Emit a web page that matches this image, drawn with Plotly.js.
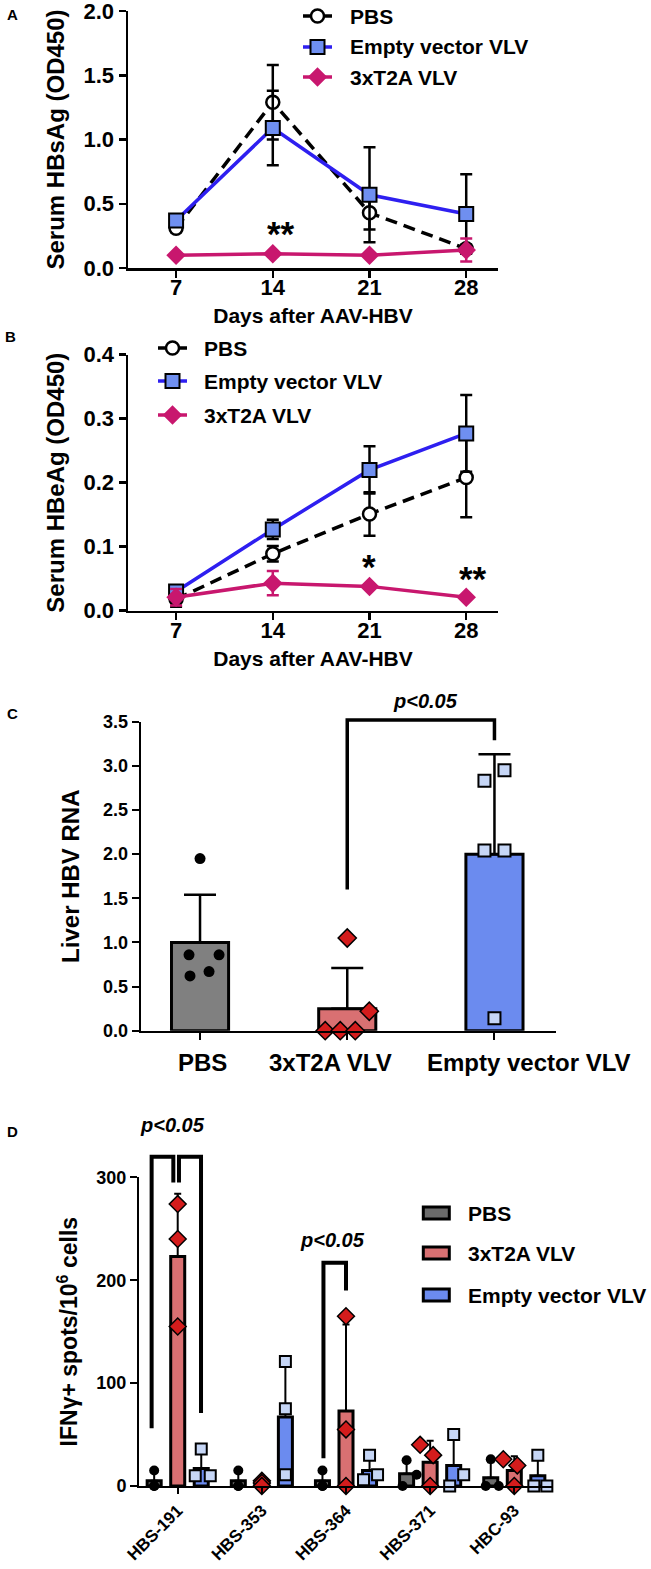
<!DOCTYPE html>
<html><head><meta charset="utf-8">
<script src="https://cdn.plot.ly/plotly-3.0.1.min.js"></script>
<style>html,body{margin:0;padding:0;background:#fff}</style>
</head><body><div id="chart" style="width:651px;height:1569px"></div>
<script>
// ---------------- DATA ----------------
const days = [7, 14, 21, 28];
const seriesNames = ['PBS', 'Empty vector VLV', '3xT2A VLV'];

// Panel A: Serum HBsAg (OD450), mean and error
const hbsagPBS = [0.31, 1.29, 0.43, 0.15];
const hbsagPBSErr = [0.03, 0.29, 0.13, 0.03];
const hbsagEmpty = [0.37, 1.09, 0.57, 0.42];
const hbsagEmptyErr = [0.02, 0.29, 0.37, 0.31];
const hbsagT2A = [0.10, 0.11, 0.10, 0.14];
const hbsagT2AErr = [0.01, 0.01, 0.01, 0.09];

// Panel B: Serum HBeAg (OD450)
const hbeagPBS = [0.018, 0.089, 0.151, 0.208];
const hbeagPBSErr = [0.012, 0.012, 0.034, 0.062];
const hbeagEmpty = [0.030, 0.127, 0.220, 0.277];
const hbeagEmptyErr = [0.006, 0.015, 0.037, 0.060];
const hbeagT2A = [0.021, 0.043, 0.038, 0.021];
const hbeagT2AErr = [0.013, 0.019, 0.003, 0.002];

// Panel C: Liver HBV RNA
const rnaGroups = ['PBS', '3xT2A VLV', 'Empty vector VLV'];
const rnaMean = [1.0, 0.25, 2.0];
const rnaSD = [0.54, 0.46, 1.13];
const rnaPBS = [1.95, 0.86, 0.86, 0.62, 0.67];
const rnaT2A = [1.05, 0.22, 0.0, 0.0, 0.0];
const rnaEmpty = [2.95, 2.83, 2.04, 2.04, 0.14];

// Panel D: IFNγ+ spots / 10^6 cells
const peptides = ['HBS-191', 'HBS-353', 'HBS-364', 'HBS-371', 'HBC-93'];
const spotsPBSMean = [5, 5, 5, 12, 8];
const spotsPBSSD = [9, 9, 9, 13, 15];
const spotsT2AMean = [223, 3, 73, 23, 15];
const spotsT2ASD = [61, 3, 84, 21, 14];
const spotsEmptyMean = [17, 67, 15, 20, 10];
const spotsEmptySD = [18, 55, 14, 26, 18];
const spotsPBS = [[15, 0, 0], [15, 0, 0], [15, 0, 0], [25, 11, 0], [26, 0, 0]];
const spotsT2A = [[274, 240, 155], [5, 3, 0], [165, 55, 0], [40, 30, 0], [26, 20, 0]];
const spotsEmpty = [[36, 10, 10], [121, 75, 11], [30, 6, 11], [50, 11, 0], [30, 0, 0]];

// ---------------- STYLE / LAYOUT HELPERS ----------------
const W = 651, H = 1569;
const px = v => v / W;
const py = v => 1 - v / H;
const FONT = 'Liberation Sans, Arial, Helvetica, sans-serif';
const f = (size, extra) => Object.assign({family: FONT, weight: 'bold', color: '#000', size: size}, extra || {});

const C_BLUE_LINE = '#2e1ff0', C_BLUE_FILL = '#6f8ff0';
const C_MAG = '#c8176e';
const C_GRAY = '#808080', C_GRAY_D = '#6b6b6b', C_SALMON = '#d97072', C_CORN = '#6b8bef';
const C_RED = '#d41c1c', C_LIGHTBLUE = '#c6d6f6';

const st = [
  {line: {color: '#000', width: 3.5, dash: '12px,7px'},
   marker: {symbol: 'circle', size: 13, color: '#fff', line: {color: '#000', width: 2.5}}, err: '#000'},
  {line: {color: C_BLUE_LINE, width: 3.5},
   marker: {symbol: 'square', size: 14, color: C_BLUE_FILL, line: {color: '#000', width: 2}}, err: '#000'},
  {line: {color: C_MAG, width: 3.5},
   marker: {symbol: 'diamond', size: 15, color: C_MAG, line: {color: C_MAG, width: 0}}, err: C_MAG}
];

function lineSeries(name, y, err, s, xa, ya) {
  return {type: 'scatter', mode: 'lines+markers', name: name, x: days, y: y,
    xaxis: xa, yaxis: ya, line: s.line, marker: s.marker,
    error_y: {type: 'data', array: err, visible: true, color: s.err, thickness: 2.5, width: 6},
    cliponaxis: false, showlegend: false, hoverinfo: 'skip'};
}

const traces = [];
// Panel A
traces.push(lineSeries(seriesNames[0], hbsagPBS, hbsagPBSErr, st[0], 'x', 'y'));
traces.push(lineSeries(seriesNames[1], hbsagEmpty, hbsagEmptyErr, st[1], 'x', 'y'));
traces.push(lineSeries(seriesNames[2], hbsagT2A, hbsagT2AErr, st[2], 'x', 'y'));
// Panel B
traces.push(lineSeries(seriesNames[0], hbeagPBS, hbeagPBSErr, st[0], 'x2', 'y2'));
traces.push(lineSeries(seriesNames[1], hbeagEmpty, hbeagEmptyErr, st[1], 'x2', 'y2'));
traces.push(lineSeries(seriesNames[2], hbeagT2A, hbeagT2AErr, st[2], 'x2', 'y2'));

// Panel C bars
const cIdx = rnaGroups.map((_, i) => i);
traces.push({type: 'bar', x: cIdx, y: rnaMean, xaxis: 'x3', yaxis: 'y3', width: 0.388,
  marker: {color: [C_GRAY, C_SALMON, C_CORN], line: {color: '#000', width: 3}},
  error_y: {type: 'data', symmetric: false, array: rnaSD, arrayminus: [0, 0, 0], color: '#000', thickness: 2.5, width: 16},
  showlegend: false, hoverinfo: 'skip'});
// Panel C points (horizontal spread in px, a style choice)
const cSpread = [[0, -11, 19, -10, 9], [0, 22, -22, -7, 8], [10, -10, -10, 10, 0]];
const cUnit = 147; // px per category
const cPts = [rnaPBS, rnaT2A, rnaEmpty];
const cMk = [
  {symbol: 'circle', size: 11, color: '#000', line: {width: 0}},
  {symbol: 'diamond', size: 14, color: C_RED, line: {color: '#000', width: 1.5}},
  {symbol: 'square', size: 12, color: C_LIGHTBLUE, line: {color: '#000', width: 2}}
];
cPts.forEach((vals, g) => {
  traces.push({type: 'scatter', mode: 'markers', xaxis: 'x3', yaxis: 'y3',
    x: vals.map((_, k) => g + cSpread[g][k] / cUnit), y: vals, marker: cMk[g],
    cliponaxis: false, showlegend: false, hoverinfo: 'skip'});
});

// Panel D bars
const dUnit = 84; // px per peptide group
const dOff = [-23.5 / dUnit, 0, 23.5 / dUnit];
const dBarW = 14 / dUnit;
const dMeans = [spotsPBSMean, spotsT2AMean, spotsEmptyMean];
const dSDs = [spotsPBSSD, spotsT2ASD, spotsEmptySD];
const dFill = [C_GRAY_D, C_SALMON, C_CORN];
const dNames = ['PBS', '3xT2A VLV', 'Empty vector VLV'];
dMeans.forEach((m, g) => {
  traces.push({type: 'bar', name: dNames[g], x: peptides.map((_, i) => i + dOff[g]), y: m,
    xaxis: 'x4', yaxis: 'y4', width: dBarW,
    marker: {color: dFill[g], line: {color: '#000', width: 3}},
    error_y: {type: 'data', symmetric: false, array: dSDs[g], arrayminus: m.map(() => 0), color: '#000', thickness: 2, width: 3.5},
    showlegend: false, hoverinfo: 'skip'});
});
// Panel D points
const dSpread = [
  [[0, 0, 0], [0, 0, 0], [0, 0, 0], [0, 10, -4], [0, -5, 8]],
  [[0, 0, 0], [0, 0, 0], [0, 0, 0], [-10, 3, 0], [-11, 3, 0]],
  [[0, -6, 9], [0, 0, 0], [0, -6, 8], [0, 10, -4], [0, -4, 9]]
];
const dPts = [spotsPBS, spotsT2A, spotsEmpty];
const dMk = [
  {symbol: 'circle', size: 10, color: '#000', line: {width: 0}},
  {symbol: 'diamond', size: 13, color: C_RED, line: {color: '#000', width: 1.5}},
  {symbol: 'square', size: 11, color: C_LIGHTBLUE, line: {color: '#000', width: 2}}
];
dPts.forEach((groups, g) => {
  const xs = [], ys = [];
  groups.forEach((vals, i) => vals.forEach((v, k) => {
    xs.push(i + dOff[g] + dSpread[g][i][k] / dUnit); ys.push(v);
  }));
  traces.push({type: 'scatter', mode: 'markers', xaxis: 'x4', yaxis: 'y4', x: xs, y: ys,
    marker: dMk[g], cliponaxis: false, showlegend: false, hoverinfo: 'skip'});
});

// ---------------- AXES ----------------
const common = {showgrid: false, zeroline: false, showline: true, linecolor: '#000', tickcolor: '#000',
  ticks: 'outside', fixedrange: true, ticklabeloverflow: 'allow'};
function xLine(domain, anchor) {
  return Object.assign({}, common, {domain: domain, anchor: anchor, range: [3.52, 30.3], tickvals: days,
    ticklen: 7, tickwidth: 2.5, linewidth: 2.5, tickfont: f(22), ticklabelstandoff: -9,
    title: {text: 'Days after AAV-HBV', font: f(21), standoff: 10}});
}
function yLine(domain, anchor, range, tv, title) {
  return Object.assign({}, common, {domain: domain, anchor: anchor, range: range, tickvals: tv, tickformat: '.1f',
    ticklen: 7, tickwidth: 2.5, linewidth: 2.5, tickfont: f(22),
    title: {text: title, font: f(24), standoff: 12}});
}

const layout = {
  width: W, height: H, margin: {l: 0, r: 0, t: 0, b: 0}, paper_bgcolor: '#fff', plot_bgcolor: 'rgba(0,0,0,0)',
  showlegend: false, font: {family: FONT},
  xaxis: xLine([px(128), px(498)], 'y'),
  yaxis: yLine([py(268), py(11)], 'x', [0, 2], [0, 0.5, 1, 1.5, 2], 'Serum HBsAg (OD450)'),
  xaxis2: xLine([px(128), px(498)], 'y2'),
  yaxis2: yLine([py(610.7), py(354.7)], 'x2', [0, 0.4], [0, 0.1, 0.2, 0.3, 0.4], 'Serum HBeAg (OD450)'),
  xaxis3: Object.assign({}, common, {domain: [px(140.7), px(556)], anchor: 'y3', range: [-0.403, 2.418],
    tickvals: cIdx, ticktext: rnaGroups, showticklabels: false, ticklen: 7, tickwidth: 2, linewidth: 2}),
  yaxis3: Object.assign({}, common, {domain: [py(1030.7), py(721.7)], anchor: 'x3', range: [0, 3.5], dtick: 0.5,
    tickformat: '.1f', ticklen: 7, tickwidth: 2, linewidth: 2, tickfont: f(18),
    title: {text: 'Liver HBV RNA', font: f(24), standoff: 17}}),
  xaxis4: Object.assign({}, common, {domain: [px(139), px(553)], anchor: 'y4', range: [-0.46, 4.46],
    tickvals: peptides.map((_, i) => i), ticktext: peptides, tickangle: -45, ticklen: 6, tickwidth: 2, linewidth: 2,
    tickfont: f(17)}),
  yaxis4: Object.assign({}, common, {domain: [py(1486), py(1177.3)], anchor: 'x4', range: [0, 300],
    tickvals: [0, 100, 200, 300], ticklen: 7, tickwidth: 2, linewidth: 2, tickfont: f(18),
    title: {text: 'IFNγ+ spots/10<sup>6</sup> cells', font: f(23), standoff: 12}}),
  // pixel-space overlay used only for legend glyph markers
  xaxis5: {domain: [0, 1], range: [0, W], visible: false, fixedrange: true, anchor: 'y5'},
  yaxis5: {domain: [0, 1], range: [H, 0], visible: false, fixedrange: true, anchor: 'x5'},
  barmode: 'overlay',
  shapes: [],
  annotations: []
};

// Significance brackets drawn in paper space from data coordinates (not clipped by the plot area)
function toPaper(axName, v) {
  const a = layout[axName];
  return a.domain[0] + (v - a.range[0]) / (a.range[1] - a.range[0]) * (a.domain[1] - a.domain[0]);
}
function bracket(xa, ya, xs, ys, w) {
  const pts = xs.map((x, i) => toPaper(xa, x).toFixed(5) + ',' + toPaper(ya, ys[i]).toFixed(5));
  layout.shapes.push({type: 'path', xref: 'paper', yref: 'paper', path: 'M' + pts.join('L'),
    line: {color: '#000', width: w}, layer: 'above'});
}
bracket('xaxis3', 'yaxis3', [1, 1, 2, 2], [1.6, 3.52, 3.52, 3.29], 3.5);
bracket('xaxis4', 'yaxis4', [-0.31, -0.31, -0.052, -0.052], [56, 320, 320, 295], 4);
bracket('xaxis4', 'yaxis4', [0.015, 0.015, 0.277, 0.277], [295, 320, 320, 71], 4);
bracket('xaxis4', 'yaxis4', [2 - 0.268, 2 - 0.268, 2, 2], [27, 217, 217, 190], 4);

// Legends for panels A and B (line + marker + label)
const lineLegends = [
  {x0: 303, x1: 332, xt: 348, ys: [16, 47, 77]},
  {x0: 158, x1: 187, xt: 202, ys: [348, 381, 415]}
];
seriesNames.forEach((name, s) => {
  const mx = [], my = [];
  lineLegends.forEach(L => {
    const y = L.ys[s];
    layout.shapes.push({type: 'line', xref: 'paper', yref: 'paper', x0: px(L.x0), x1: px(L.x1),
      y0: py(y), y1: py(y), line: {color: st[s].line.color, width: 3.5, dash: st[s].line.dash || 'solid'}, layer: 'below'});
    layout.annotations.push({text: name, x: px(L.xt), y: py(y), xref: 'paper', yref: 'paper', showarrow: false,
      xanchor: 'left', yanchor: 'middle', font: f(21)});
    mx.push((L.x0 + L.x1) / 2); my.push(y);
  });
  traces.push({type: 'scatter', mode: 'markers', x: mx, y: my, xaxis: 'x5', yaxis: 'y5',
    marker: st[s].marker, cliponaxis: false, showlegend: false, hoverinfo: 'skip'});
});

// Panel letters
[['A', 12.7, 14.3], ['B', 10, 336.7], ['C', 12, 714], ['D', 12, 1131]].forEach(([t, x, y]) => {
  layout.annotations.push({text: t, x: px(x), y: py(y), xref: 'paper', yref: 'paper', showarrow: false,
    xanchor: 'center', yanchor: 'middle', font: f(15)});
});
// Significance marks
const note = (t, x, y, font) => layout.annotations.push({text: t, x: px(x), y: py(y), xref: 'paper', yref: 'paper',
  showarrow: false, xanchor: 'center', yanchor: 'middle', font: font});
note('**', 281, 233, f(35));
note('*', 369, 566, f(35));
note('**', 473, 578, f(35));
note('p<0.05', 425, 701, f(20, {style: 'italic'}));
note('p<0.05', 172, 1125, f(20, {style: 'italic'}));
note('p<0.05', 332.5, 1240, f(20, {style: 'italic'}));
// Panel C category labels (positioned as in the original figure)
[[rnaGroups[0], 202], [rnaGroups[1], 330], [rnaGroups[2], 529]].forEach(([t, x]) => note(t, x, 1062, f(24)));

// Panel D legend (wide boxed swatches)
[[dNames[0], dFill[0], 1213], [dNames[1], dFill[1], 1253], [dNames[2], dFill[2], 1295]].forEach(([t, c, y]) => {
  layout.shapes.push({type: 'rect', xref: 'paper', yref: 'paper', x0: px(423.3), x1: px(449.3),
    y0: py(y + 6), y1: py(y - 6), fillcolor: c, line: {color: '#000', width: 3}});
  layout.annotations.push({text: t, x: px(466), y: py(y), xref: 'paper', yref: 'paper', showarrow: false,
    xanchor: 'left', yanchor: 'middle', font: f(21)});
});

Plotly.newPlot('chart', traces, layout, {displayModeBar: false, staticPlot: true});
</script></body></html>
